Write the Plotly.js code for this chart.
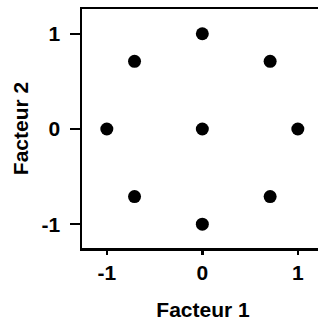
<!DOCTYPE html>
<html>
<head>
<meta charset="utf-8">
<script src="https://cdn.plot.ly/plotly-3.0.1.min.js"></script>
<style>html,body{margin:0;padding:0;background:#fff;overflow:hidden}</style>
</head>
<body>
<div id="chart" style="width:318px;height:323px;overflow:hidden"></div>
<script>
const facteur1 = [0, -0.71, 0.71, -1, 0, 1, -0.71, 0, 0.71];
const facteur2 = [1, 0.71, 0.71, 0, 0, 0, -0.71, -1, -0.71];
const tickVals = [-1, 0, 1];
const tickText = ['-1', '0', '1'];

const font = {family: 'Liberation Sans, Arial, Helvetica, sans-serif', color: '#000'};
const fs = 21;

Plotly.newPlot('chart', [{
  x: facteur1, y: facteur2, mode: 'markers', type: 'scatter',
  marker: {color: '#000', size: 13}, hoverinfo: 'none'
}], {
  width: 324, height: 323,
  margin: {l: 82, r: 0, t: 9, b: 75},
  paper_bgcolor: '#fff', plot_bgcolor: '#fff',
  showlegend: false,
  font: Object.assign({size: fs}, font),
  xaxis: {
    range: [-1.26, 1.274], tickvals: tickVals, ticktext: tickText,
    showgrid: false, zeroline: false, showline: true, mirror: true,
    linecolor: '#000', linewidth: 2.5, ticks: 'outside', ticklen: 4, tickwidth: 2.5, tickcolor: '#000',
    tickfont: Object.assign({size: fs, weight: 'bold'}, font),
    title: {text: 'Facteur 1', font: Object.assign({size: fs, weight: 'bold'}, font), standoff: 20}
  },
  xaxis2: {
    overlaying: 'x', matches: 'x', anchor: 'y', side: 'bottom',
    range: [-1.26, 1.274], tickvals: tickVals, showticklabels: false,
    showgrid: false, zeroline: false, showline: false,
    ticks: 'outside', ticklen: 10, tickwidth: 2.5, tickcolor: '#000'
  },
  yaxis: {
    range: [-1.25, 1.26], tickvals: tickVals, ticktext: tickText,
    showgrid: false, zeroline: false, showline: true,
    linecolor: '#000', linewidth: 2.5, ticks: 'outside', ticklen: 10, tickwidth: 2.5, tickcolor: '#000',
    ticklabelstandoff: 5,
    tickfont: Object.assign({size: fs, weight: 'bold'}, font),
    title: {text: 'Facteur 2', font: Object.assign({size: fs, weight: 'bold'}, font), standoff: 8}
  }
}, {staticPlot: true});
</script>
</body>
</html>
